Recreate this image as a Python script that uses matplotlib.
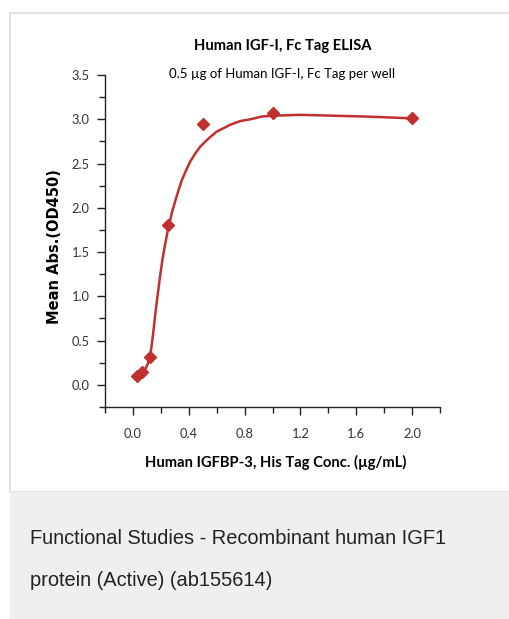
import matplotlib
matplotlib.use("Agg")
import matplotlib.pyplot as plt
from matplotlib.patches import Rectangle
from matplotlib.ticker import MultipleLocator

# Measured points
conc = [0.03125, 0.0625, 0.125, 0.25, 0.5, 1.0, 2.0]
od450 = [0.10, 0.14, 0.32, 1.81, 2.95, 3.07, 3.01]

# Fitted curve
curve_x = [0.031, 0.038, 0.06, 0.086, 0.105, 0.122, 0.132, 0.14, 0.15, 0.158, 0.176, 0.194,
           0.212, 0.23, 0.248, 0.261, 0.28, 0.302, 0.325, 0.35, 0.38, 0.41, 0.445, 0.482,
           0.52, 0.554, 0.6, 0.65, 0.7, 0.77, 0.842, 0.92, 1.0, 1.2, 1.44, 1.68, 2.0]
curve_y = [0.09, 0.11, 0.13, 0.17, 0.23, 0.32, 0.42, 0.52, 0.65, 0.77, 1.00, 1.22,
           1.42, 1.58, 1.73, 1.82, 1.95, 2.07, 2.19, 2.31, 2.42, 2.52, 2.61, 2.69,
           2.75, 2.80, 2.86, 2.90, 2.94, 2.98, 3.00, 3.03, 3.04, 3.05, 3.04, 3.03, 3.01]

xticks = [0.0, 0.4, 0.8, 1.2, 1.6, 2.0]
yticks = [0.0, 0.5, 1.0, 1.5, 2.0, 2.5, 3.0, 3.5]

title = "Human IGF-I, Fc Tag ELISA"
subtitle = "0.5 \u00b5g of Human IGF-I, Fc Tag per well"
xlabel = "Human IGFBP-3, His Tag Conc. (\u00b5g/mL)"
ylabel = "Mean Abs.(OD450)"
caption1 = "Functional Studies - Recombinant human IGF1"
caption2 = "protein (Active) (ab155614)"

W, H = 510, 619
fig = plt.figure(figsize=(W / 100, H / 100), dpi=100)
fig.patch.set_facecolor("white")

# card and caption background
fig.patches.append(Rectangle((10 / W, 1 - 492 / H), 1, (492 - 13) / H, transform=fig.transFigure,
                             facecolor="white", edgecolor="#e2e2e2", linewidth=1.5, zorder=-10))
fig.patches.append(Rectangle((10 / W, 0), 1, 1 - 492 / H, transform=fig.transFigure,
                             facecolor="#eeefef", edgecolor="none", zorder=-10))

ax = fig.add_axes([105 / W, 1 - 407 / H, (440 - 105) / W, (407 - 75) / H])
ax.set_zorder(5)
ax.set_facecolor("none")
red = "#c0302e"
ax.plot(curve_x, curve_y, color=red, lw=1.8, zorder=2, solid_joinstyle="round")
ax.plot(conc, od450, linestyle="none", marker="D", ms=5.8, color=red, zorder=3)

ax.set_xlim(-0.2, 2.2)
ax.set_ylim(-0.25, 3.5)
ax.set_xticks(xticks)
ax.set_yticks(yticks)
ax.xaxis.set_minor_locator(MultipleLocator(0.2))
ax.yaxis.set_minor_locator(MultipleLocator(0.25))
ax.set_xticklabels([f"{v:.1f}" for v in xticks])
ax.set_yticklabels([f"{v:.1f}" for v in yticks])
for s in ("top", "right"):
    ax.spines[s].set_visible(False)
for s in ("left", "bottom"):
    ax.spines[s].set_linewidth(1.0)
    ax.spines[s].set_color("#222222")
ax.tick_params(axis="both", which="major", direction="out", length=6, width=1.0,
               color="#222222", labelsize=9.3, labelcolor="#333333")
ax.tick_params(axis="both", which="minor", direction="out", length=4, width=1.0, color="#222222")
ax.tick_params(axis="x", pad=9)
ax.tick_params(axis="y", pad=5)
for lab in ax.get_xticklabels() + ax.get_yticklabels():
    lab.set_fontfamily(["Lato"])

fig.text(283 / W, 1 - 46 / H, title, ha="center", va="center", fontsize=10.6,
         fontweight="bold", family=["Lato"])
fig.text(282 / W, 1 - 74 / H, subtitle, ha="center", va="center", fontsize=9.5, family=["Lato"])
fig.text(276 / W, 1 - 462 / H, xlabel, ha="center", va="center", fontsize=10.6,
         fontweight="bold", family=["Lato"])
fig.text(55 / W, 1 - 247 / H, ylabel, ha="center", va="center", rotation=90, fontsize=10.5,
         fontweight="bold", family="DejaVu Sans")

fig.text(30 / W, 1 - 538 / H, caption1, ha="left", va="center", fontsize=14.4,
         family="Liberation Sans", color="#222222")
fig.text(30 / W, 1 - 580 / H, caption2, ha="left", va="center", fontsize=14.4,
         family="Liberation Sans", color="#222222")

fig.savefig("out.png", dpi=100)
